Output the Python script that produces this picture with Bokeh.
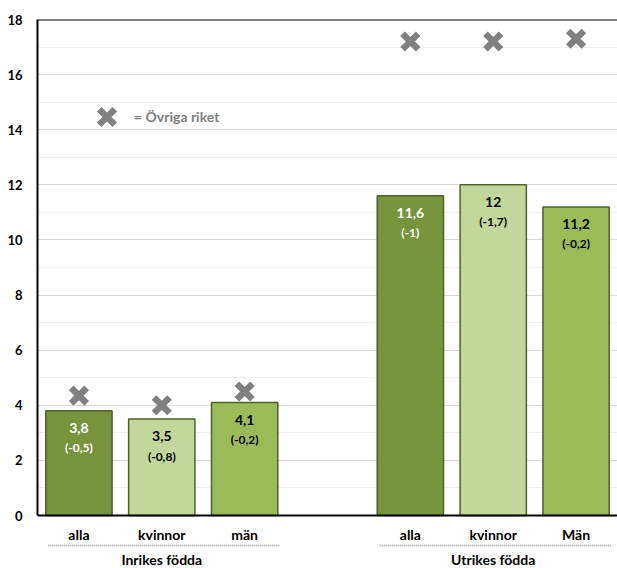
from bokeh.plotting import figure
from bokeh.models import (Range1d, ColumnDataSource, Span, SingleIntervalTicker,
                          Legend, LegendItem)
from bokeh.core.properties import value
from bokeh.embed import file_html
from bokeh.resources import INLINE

# ---- data ----
groups = ["Inrikes födda", "Utrikes födda"]
categories = ["alla", "kvinnor", "män", "alla", "kvinnor", "Män"]
values = [3.8, 3.5, 4.1, 11.6, 12.0, 11.2]
value_labels = ["3,8", "3,5", "4,1", "11,6", "12", "11,2"]
change_labels = ["(-0,5)", "(-0,8)", "(-0,2)", "(-1)", "(-1,7)", "(-0,2)"]
ovriga = [4.35, 4.0, 4.5, 17.2, 17.2, 17.3]
y_ticks_max = 18

FONT = "Lato"
bar_colors = ["#77933c", "#c4d79b", "#9bbb59"] * 2
text_colors = ["white", "black", "black"] * 2

# slot positions: 3 bars, an empty slot, 3 bars
xs = [i + (i // 3) + 0.5 for i in range(len(categories))]

src = ColumnDataSource(dict(x=xs, top=values, cat=categories, vlab=value_labels,
                            clab=change_labels, ov=ovriga, color=bar_colors,
                            tcolor=text_colors, y0=[0] * len(xs)))

W, H = 617, 568
frame_top = 19
frame_h = H - frame_top
below_px = 53  # room under the zero line inside the frame
y_start = -y_ticks_max * (frame_h / (frame_h - below_px) - 1)
px_per_unit = (frame_h - below_px) / y_ticks_max

p = figure(width=W, height=H, output_backend="svg", toolbar_location=None,
           x_range=Range1d(0, 7), y_range=Range1d(y_start, y_ticks_max),
           min_border_left=37, min_border_right=0, min_border_top=frame_top,
           min_border_bottom=0)
p.outline_line_color = None
p.background_fill_color = "white"
p.border_fill_color = "white"

p.xaxis.visible = False
p.xgrid.visible = False

yax = p.yaxis[0]
yax.ticker = SingleIntervalTicker(interval=2, num_minor_ticks=2)
yax.bounds = (0, y_ticks_max)
yax.axis_line_color = "black"
yax.axis_line_width = 2
yax.major_tick_line_color = None
yax.minor_tick_line_color = None
yax.major_label_text_font = FONT
yax.major_label_text_font_style = "bold"
yax.major_label_text_font_size = "13px"
yax.major_label_text_color = "black"
yax.major_label_standoff = 9

yg = p.ygrid[0]
yg.grid_line_color = "#d9d9d9"
yg.grid_line_width = 1
yg.minor_grid_line_color = "#efefef"
yg.minor_grid_line_width = 1
yg.bounds = (0, y_ticks_max)

# bars
p.vbar(x="x", top="top", bottom=0, width=0.8, source=src, fill_color="color",
       line_color="#4f6228", line_width=1.5)

# value labels inside bars
p.text(x="x", y="top", text="vlab", source=src, text_align="center",
       text_baseline="middle", y_offset=17, text_font=value(FONT),
       text_font_style="bold", text_font_size="14px", text_color="tcolor")
p.text(x="x", y="top", text="clab", source=src, text_align="center",
       text_baseline="middle", y_offset=37, text_font=value(FONT),
       text_font_style="bold", text_font_size="12px", text_color="tcolor")

# Övriga riket markers
xr = p.scatter(x="x", y="ov", source=src, marker="x", size=22, line_width=6.5,
               line_color="#808080")

# axis line at 0 and top border
p.add_layout(Span(location=0, dimension="width", line_color="black", line_width=2))
p.add_layout(Span(location=y_ticks_max, dimension="width", line_color="black",
                  line_width=2))

# category labels below the axis
p.text(x="x", y="y0", text="cat", source=src, text_align="center",
       text_baseline="middle", y_offset=19, text_font=value(FONT),
       text_font_style="bold", text_font_size="14px", text_color="black")

# group separators (dotted) and group labels
sep_y = -30 / px_per_unit
g_src = ColumnDataSource(dict(
    x0=[g * 4 + 0.13 for g in range(len(groups))],
    x1=[g * 4 + 2.92 for g in range(len(groups))],
    xc=[g * 4 + 1.5 for g in range(len(groups))],
    name=groups, y0=[0] * len(groups), ys=[sep_y] * len(groups)))
p.segment(x0="x0", y0="ys", x1="x1", y1="ys", source=g_src, line_color="#a6a6a6",
          line_width=2, line_dash="1 1")
p.text(x="xc", y="y0", text="name", source=g_src, text_align="center",
       text_baseline="middle", y_offset=44, text_font=value(FONT),
       text_font_style="bold", text_font_size="14px", text_color="black")

# legend (marker legend size = 0.4 * glyph box)
leg = Legend(items=[LegendItem(label="= Övriga riket", renderers=[xr])],
             location=(42, 424), orientation="horizontal",
             border_line_color=None, background_fill_alpha=0,
             padding=0, margin=0, glyph_width=55, glyph_height=55,
             label_text_font=FONT, label_text_font_style="bold",
             label_text_font_size="14px", label_text_color="#808080",
             label_standoff=-12)
p.add_layout(leg)

open("out.html", "w").write(file_html(p, INLINE))
